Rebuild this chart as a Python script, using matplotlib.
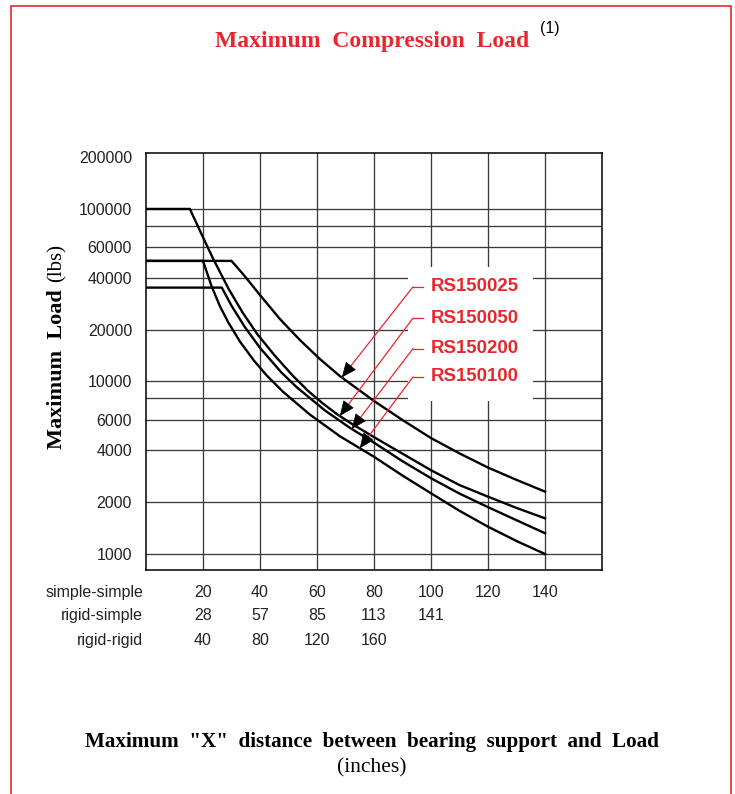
import numpy as np
import matplotlib
matplotlib.use('Agg')
import matplotlib.pyplot as plt
import matplotlib.transforms as mtransforms
from matplotlib.patches import Rectangle
from matplotlib.ticker import FixedLocator, NullLocator, FuncFormatter

SANS = ['Liberation Sans', 'DejaVu Sans']
SERIF = ['Liberation Serif', 'DejaVu Serif']
RED = '#e8262d'

# ---- data (x = simple-simple distance, inches; y = max load, lbs) ----
series_names = ['RS150025', 'RS150050', 'RS150200', 'RS150100']

dist_025 = [0, 30, 34, 40, 47, 54, 61, 68, 80, 90, 100, 110, 120, 130, 140]
load_025 = [50000, 50000, 42000, 31700, 23000, 17400, 13500, 10760, 7710, 5980,
            4700, 3830, 3170, 2690, 2300]

dist_050 = [0, 15.4, 20, 23.6, 29, 34, 39, 45, 51.6, 57, 62, 67, 72, 80, 100, 110, 120, 130, 140]
load_050 = [100000, 100000, 68500, 51300, 34400, 24950, 18860, 14240, 10760, 8780,
            7470, 6470, 5710, 4760, 3060, 2510, 2150, 1850, 1610]

dist_200 = [0, 26.6, 30, 34.7, 40, 47.5, 52.9, 62.8, 71.6, 80, 90, 100, 110, 120, 130, 140]
load_200 = [35000, 35000, 27500, 20650, 15660, 11280, 9260, 6790, 5380, 4420,
            3450, 2750, 2240, 1870, 1570, 1320]

dist_100 = [0, 20, 23, 25.9, 28.8, 33, 37.9, 42.3, 48, 57.5, 68, 80, 90, 100, 110, 120, 130, 140]
load_100 = [50000, 50000, 35700, 27400, 22100, 17000, 13200, 10860, 8740, 6430,
            4820, 3660, 2850, 2250, 1780, 1440, 1190, 1000]

y_grid = [1000, 2000, 4000, 6000, 8000, 10000, 20000, 40000, 60000, 80000, 100000, 200000]
y_unlabeled = [8000, 80000]
x_grid = [20, 40, 60, 80, 100, 120, 140]

row_names = ['simple-simple', 'rigid-simple', 'rigid-rigid']
row_simple_simple = [20, 40, 60, 80, 100, 120, 140]
row_rigid_simple = [28, 57, 85, 113, 141]
row_rigid_rigid = [40, 80, 120, 160]

tip_x = [68.7, 68, 72.2, 75]            # where each leader arrow meets its curve
label_y = [0.679, 0.604, 0.531, 0.463]  # label rows, axes fraction

# ---------------------------------------------------------------
W, H = 735, 794
fig = plt.figure(figsize=(W / 100, H / 100), dpi=100)
fig.patch.set_facecolor('white')
ax = fig.add_axes([146 / W, 1 - 570 / H, 456 / W, 417 / H])

ax.set_yscale('log')
ax.set_xlim(0, 160)
ax.set_ylim(808, 211000)

ax.yaxis.set_major_locator(FixedLocator(y_grid))
ax.yaxis.set_minor_locator(NullLocator())
ax.yaxis.set_major_formatter(FuncFormatter(
    lambda v, p: '' if round(v) in y_unlabeled else f'{int(round(v))}'))
ax.xaxis.set_major_locator(FixedLocator(x_grid))
ax.xaxis.set_minor_locator(NullLocator())
ax.set_xticklabels([])
ax.tick_params(length=0)
ax.tick_params(axis='y', pad=10, labelsize=11.5, labelcolor='#222')
for lab in ax.get_yticklabels():
    lab.set_family(SANS)

ax.set_axisbelow(True)
ax.grid(True, color='#3a3a3a', lw=0.95)
# the top label sits on the frame, no separate line there
ax.yaxis.get_gridlines()[y_grid.index(200000)].set_visible(False)
for s in ax.spines.values():
    s.set_linewidth(1.1)
    s.set_color('black')

# white box behind the labels
blend = mtransforms.blended_transform_factory(ax.transData, ax.transAxes)
ax.add_patch(Rectangle((91.9, 0.405), 135.8 - 91.9, 0.727 - 0.405,
                       transform=blend, fc='white', ec='none', zorder=1.5))

curves = [(dist_025, load_025), (dist_050, load_050),
          (dist_200, load_200), (dist_100, load_100)]
for xs, ys in curves:
    ax.plot(xs, ys, color='black', lw=1.7, zorder=3, solid_joinstyle='round')

# labels with red leaders and black arrow heads
for name, (xs, ys), tx, ly in zip(series_names, curves, tip_x, label_y):
    ty = 10 ** np.interp(tx, xs, np.log10(ys))
    ax.text(0.625, ly, name, transform=ax.transAxes, color=RED, fontsize=13.4,
            fontweight='bold', family=SANS, va='center', ha='left', zorder=5)
    ax.plot([0.5855, 0.6075], [ly, ly], transform=ax.transAxes, color=RED, lw=0.9, zorder=4)
    ax.annotate('', xy=(tx, ty), xytext=(0.5855, ly), textcoords='axes fraction',
                arrowprops=dict(arrowstyle='-', color=RED, lw=0.9, shrinkA=0, shrinkB=0),
                zorder=4)
    p_tip = ax.transData.transform((tx, ty))
    p_el = ax.transAxes.transform((0.5855, ly))
    d = (p_el - p_tip) / np.hypot(*(p_el - p_tip))
    off = d * 11 * 72 / 100
    ax.annotate('', xy=(tx, ty), xytext=(off[0], off[1]), textcoords='offset points',
                arrowprops=dict(arrowstyle='-|>,head_length=0.7,head_width=0.3',
                                mutation_scale=14, fc='black', ec='black', lw=0.5,
                                shrinkA=0, shrinkB=0), zorder=6)

# x value rows under the plot
rows = [row_simple_simple, row_rigid_simple, row_rigid_rigid]
row_y = [-0.0528, -0.110, -0.168]
for name, vals, yy in zip(row_names, rows, row_y):
    ax.text(-0.0066, yy, name, transform=ax.transAxes, ha='right', va='center',
            fontsize=11.5, family=SANS, color='#222')
    for xv, v in zip(x_grid, vals):
        ax.text(xv, yy, str(v), transform=blend, ha='center', va='center',
                fontsize=11.5, family=SANS, color='#222')

# y label: bold part + regular units
fig.text(57 / W, 1 - 369 / H, 'Maximum  Load', rotation=90, ha='center', va='center',
         fontsize=16, fontweight='bold', family=SERIF)
fig.text(57 / W, 1 - 263 / H, '(lbs)', rotation=90, ha='center', va='center',
         fontsize=15, family=SERIF)

# titles
fig.text(372 / W, 1 - 41 / H, 'Maximum  Compression  Load', ha='center', va='center',
         fontsize=17, fontweight='bold', family=SERIF, color=RED)
fig.text(550 / W, 1 - 28 / H, '(1)', ha='center', va='center', fontsize=11.5, family=SANS)
fig.text(372 / W, 1 - 742 / H, 'Maximum  "X"  distance  between  bearing  support  and  Load',
         ha='center', va='center', fontsize=15.2, fontweight='bold', family=SERIF)
fig.text(372 / W, 1 - 768 / H, '(inches)', ha='center', va='center', fontsize=15.5,
         family=SERIF)

# red page border (bottom edge runs off the page)
fig.add_artist(Rectangle((11 / W, -0.05), 720 / W, 1 - 6 / H + 0.05,
                         transform=fig.transFigure, fill=False, ec=RED, lw=1.2))

fig.savefig('out.png', dpi=100, facecolor='white')
